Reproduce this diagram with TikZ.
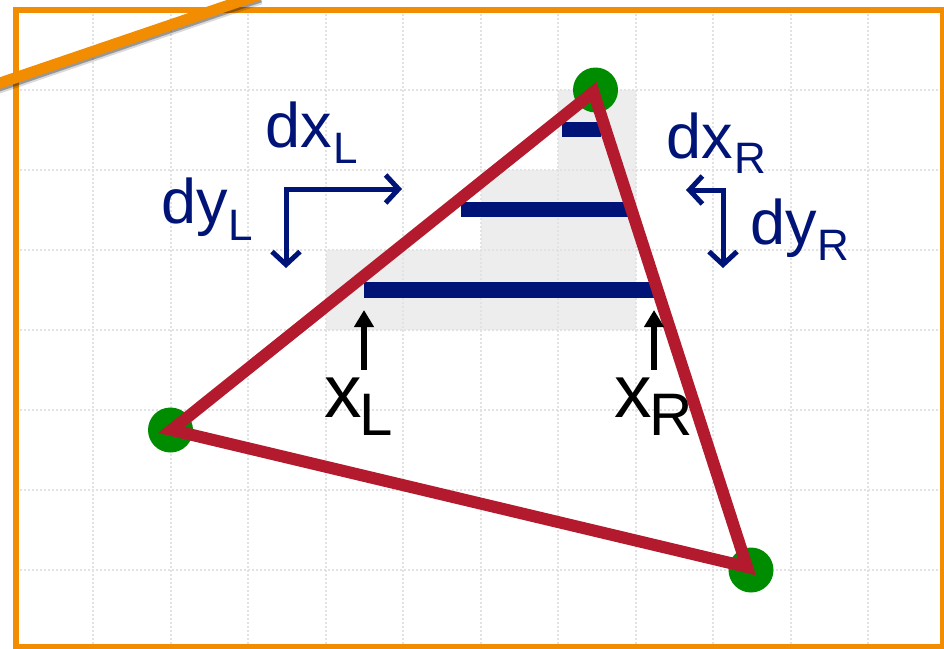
\documentclass[tikz,border=0pt]{standalone}
\usepackage{fontspec}
\setmainfont{Liberation Sans}
\usetikzlibrary{arrows.meta}
\definecolor{frameorange}{RGB}{242,140,0}
\definecolor{spanblue}{RGB}{0,20,120}
\definecolor{edgered}{RGB}{180,26,46}
\definecolor{vertgreen}{RGB}{0,140,0}
\definecolor{shadegray}{RGB}{237,237,237}
\definecolor{gridgray}{RGB}{226,226,226}
\tikzset{
  gridline/.style={gridgray, line width=1.3pt, dash pattern=on 2pt off 2pt},
  spanbar/.style={fill=spanblue},
  edge/.style={edgered, line width=12pt, line join=miter},
  vertexdot/.style={circle, fill=vertgreen, minimum size=45pt, inner sep=0pt},
  deltaarrow/.style={spanblue, line width=5pt, line join=miter,
    {Straight Barb[length=13pt,width=28pt]}-{Straight Barb[length=13pt,width=28pt]}},
  posarrow/.style={black, line width=6pt, -{Triangle[length=17pt,width=19pt]}},
  navylbl/.style={spanblue, inner sep=0pt, anchor=base west},
  blacklbl/.style={black, inner sep=0pt, anchor=base west},
}
\begin{document}
\begin{tikzpicture}[x=1pt,y=-1pt]
\useasboundingbox (0,0) rectangle (944,648);
\fill[white] (0,0) rectangle (944,648);
\begin{scope}
\clip (0,0) rectangle (944,648);
% shaded span cells
\fill[shadegray] (326,250) -- (481,250) -- (481,170) -- (558,170) -- (558,90)
  -- (636,90) -- (636,330) -- (326,330) -- cycle;
% grid
\foreach \gx in {93,171,248,326,403,481,558,636,713,791,868}
  \draw[gridline] (\gx,10) -- (\gx,648);
\foreach \gy in {90,170,250,330,410,490,570}
  \draw[gridline] (16,\gy) -- (944,\gy);
% frame
\draw[frameorange, line width=6pt] (16,10) rectangle (943,647);
% diagonal orange with shadow
\draw[black, opacity=0.15, line width=15pt] (-10,89) -- (260,-3);
\draw[black, opacity=0.3, line width=12pt] (-10,88.5) -- (260,-3.5);
\draw[frameorange, line width=11pt] (-10,86.4) -- (260,-5.5);
\end{scope}
% span bars
\fill[spanbar] (562,122) rectangle (601,137);
\fill[spanbar] (461,202) rectangle (634,217);
\fill[spanbar] (364,282) rectangle (654,298);
% vertices
\node[vertexdot] (va) at (595.5,90) {};
\node[vertexdot] (vb) at (170.5,430) {};
\node[vertexdot] (vc) at (751,570) {};
% triangle edges
\path (va.center) ++(-2,2) coordinate (ta) (vb.center) ++(1,0) coordinate (tb)
  (vc.center) ++(-4,-3) coordinate (tc);
\draw[edge] (ta) -- (tb) -- (tc) -- cycle;
% delta arrows left
\coordinate (dlh) at (402,189);
\coordinate (dlc) at (286,189);
\coordinate (dlv) at (286,268);
\draw[deltaarrow] (dlh) -- (dlc) -- (dlv);
% delta arrows right
\coordinate (drh) at (686,190);
\coordinate (drc) at (723,190);
\coordinate (drv) at (723,268);
\draw[deltaarrow] (drh) -- (drc) -- (drv);
% position arrows
\coordinate (pla) at (364,370);
\coordinate (plb) at (364,310);
\coordinate (pra) at (654,370);
\coordinate (prb) at (654,310);
\draw[posarrow] (pla) -- (plb);
\draw[posarrow] (pra) -- (prb);
% labels
\node[navylbl] (ldxl) at (265,147) {\fontsize{63}{63}\selectfont dx\kern2pt\raisebox{-16pt}{\fontsize{44}{44}\selectfont L}};
\node[navylbl] (ldyl) at (161,223) {\fontsize{63}{63}\selectfont dy\kern1pt\raisebox{-17pt}{\fontsize{44}{44}\selectfont L}};
\node[navylbl] (ldxr) at (666,158) {\fontsize{63}{63}\selectfont dx\kern2pt\raisebox{-15pt}{\fontsize{44}{44}\selectfont R}};
\node[navylbl] (ldyr) at (750,244) {\fontsize{63}{63}\selectfont dy\kern1pt\raisebox{-16pt}{\fontsize{44}{44}\selectfont R}};
\node[blacklbl] (lxl) at (324,417) {\fontsize{75}{75}\selectfont x\kern-2pt\raisebox{-18pt}{\fontsize{60}{60}\selectfont L}};
\node[blacklbl] (lxr) at (614,417) {\fontsize{75}{75}\selectfont x\kern-2pt\raisebox{-18pt}{\fontsize{60}{60}\selectfont R}};
\end{tikzpicture}
\end{document}
